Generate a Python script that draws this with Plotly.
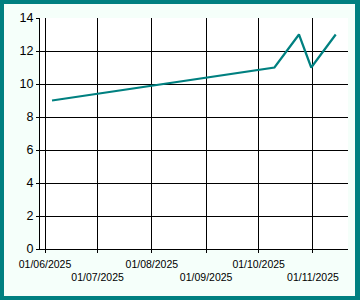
import plotly.graph_objects as go

dates = ["2025-06-05", "2025-10-10", "2025-10-24", "2025-10-31", "2025-11-14"]
values = [9, 11, 13, 11, 13]

tick_dates = ["2025-06-01", "2025-07-01", "2025-08-01", "2025-09-01", "2025-10-01", "2025-11-01"]
tick_labels = ["01/06/2025", "01/07/2025", "01/08/2025", "01/09/2025", "01/10/2025", "01/11/2025"]
y_ticks = [0, 2, 4, 6, 8, 10, 12, 14]

TEAL = "#008080"
BG = "#F5FFFA"

# staggered labels: every second label goes on a second line
tick_text = [t if i % 2 == 0 else " <br>" + t for i, t in enumerate(tick_labels)]

fig = go.Figure()
fig.add_trace(go.Scatter(
    x=dates, y=values, mode="lines",
    line=dict(color=TEAL, width=2.2),
    hoverinfo="skip",
))

W, H = 360, 300
ml, mr, mt, mb = 40, 12, 18, 51
pw, ph = W - ml - mr, H - mt - mb

def px_x(p):
    return (p - ml) / pw

def px_y(p):
    return (H - mb - p) / ph

shapes = []
for x0, y0, x1, y1 in [(0, 0, 4, 300), (355, 0, 360, 300), (0, 0, 360, 4), (0, 296, 360, 300)]:
    shapes.append(dict(type="rect", xref="paper", yref="paper",
                       x0=px_x(x0), x1=px_x(x1), y0=px_y(y1), y1=px_y(y0),
                       fillcolor=TEAL, line=dict(width=0), layer="above"))

fig.update_layout(
    width=W, height=H,
    margin=dict(l=ml, r=mr, t=mt, b=mb, pad=0, autoexpand=False),
    paper_bgcolor=BG, plot_bgcolor="white",
    showlegend=False,
    font=dict(family="Liberation Sans, Arial, sans-serif", color="black"),
    shapes=shapes,
    xaxis=dict(
        type="date",
        range=["2025-05-29 03:00", "2025-11-21"],
        tickmode="array", tickvals=tick_dates, ticktext=tick_text,
        tickangle=0, automargin=False, ticklabelstandoff=2,
        showgrid=True, gridcolor="black", gridwidth=1,
        showline=True, linecolor="black", linewidth=1,
        ticks="outside", ticklen=3, tickcolor="black", tickwidth=1,
        tickfont=dict(size=10.5, color="black"),
        zeroline=False, fixedrange=True,
    ),
    yaxis=dict(
        range=[0, 14], automargin=False,
        tickmode="array", tickvals=y_ticks,
        showgrid=True, gridcolor="black", gridwidth=1,
        showline=True, linecolor="black", linewidth=1,
        ticks="outside", ticklen=3, tickcolor="black", tickwidth=1,
        tickfont=dict(size=12.5, color="black"),
        zeroline=False, fixedrange=True,
    ),
)

fig.write_html("out.html", config={"displayModeBar": False})
